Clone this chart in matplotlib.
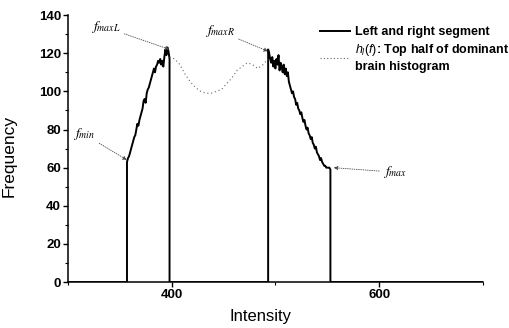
import numpy as np
import matplotlib
matplotlib.use('Agg')
import matplotlib.pyplot as plt
from matplotlib.ticker import MultipleLocator
from matplotlib.lines import Line2D

plt.rcParams['font.family'] = ['Liberation Sans', 'DejaVu Sans']
plt.rcParams['mathtext.fontset'] = 'custom'
plt.rcParams['mathtext.it'] = 'Liberation Sans:italic'
plt.rcParams['mathtext.rm'] = 'Liberation Sans'

# left segment (fmin -> fmaxL), one value per intensity step
left_start = 357
left_y = [63, 65, 66, 68, 70, 72, 74, 76, 77, 80, 83, 82, 85, 87, 89, 91, 95, 96,
          94, 99, 101, 102, 104, 106, 108, 110, 112, 110, 113, 114, 116, 115, 117,
          114, 116, 113, 118, 122, 119, 123, 121, 117]

# right segment (fmaxR -> fmax)
right_start = 493
right_y = [122, 120, 117, 115, 118, 113, 116, 112, 117, 114, 119, 111, 115, 113, 110,
           114, 109, 112, 108, 110, 105, 103, 101, 99, 100, 97, 96, 93, 94, 91, 90,
           88, 89, 86, 84, 85, 82, 80, 81, 78, 77, 75, 76, 73, 72, 70, 71, 68, 67,
           66, 64, 65, 63, 62, 61, 61, 60, 60, 60, 60, 59]

# top half of dominant brain histogram between the segments
mid_x = [398, 403, 408, 413, 418, 423, 428, 433, 438, 443, 448, 453, 458, 463, 468,
         473, 478, 483, 488, 493]
mid_y = [118, 117, 114, 109, 105, 102, 100, 99, 99, 100, 101, 104, 107, 111, 113,
         115, 114, 112, 114, 117]

x_min, x_max = 300, 700

left_x = np.arange(left_start, left_start + len(left_y))
right_x = np.arange(right_start, right_start + len(right_y))

seg_x = np.concatenate([[x_min, left_x[0]], left_x, [left_x[-1], right_x[0]],
                        right_x, [right_x[-1], x_max]])
seg_y = np.concatenate([[0, 0], left_y, [0, 0], right_y, [0, 0]])

fig = plt.figure(figsize=(5.1, 3.28), dpi=100)
ax = fig.add_axes([0.133, 0.140, 0.814, 0.814])

ax.plot(seg_x, seg_y, color='black', lw=1.4)
ax.plot(mid_x, mid_y, color='0.4', lw=0.8, ls=(0, (1, 2.5)))

ax.set_xlim(x_min, x_max)
ax.set_ylim(0, 140)
ax.xaxis.set_major_locator(MultipleLocator(200))
ax.xaxis.set_minor_locator(MultipleLocator(100))
ax.yaxis.set_major_locator(MultipleLocator(20))
ax.yaxis.set_minor_locator(MultipleLocator(10))
ax.tick_params(which='major', length=3.5, width=1, labelsize=9.5, pad=1.5)
ax.tick_params(which='minor', length=2, width=0.8)
for lab in ax.get_xticklabels() + ax.get_yticklabels():
    lab.set_fontweight('bold')
for s in ['top', 'right']:
    ax.spines[s].set_visible(False)
for s in ['left', 'bottom']:
    ax.spines[s].set_linewidth(1.1)

ax.set_xlabel('Intensity', fontsize=12)
ax.set_ylabel('Frequency', fontsize=12.5)
ax.xaxis.set_label_coords(0.463, -0.1)
ax.yaxis.set_label_coords(-0.123, 0.472)

arrow = dict(arrowstyle='-|>', color='0.3', lw=0.6, ls=':', mutation_scale=6,
             shrinkA=1, shrinkB=0)
akw = dict(fontsize=10, math_fontfamily='stix', arrowprops=arrow)
ax.annotate(r'$f_{min}$', xy=(left_x[0], left_y[0] + 1), xytext=(305, 76), **akw)
ax.annotate(r'$f_{maxL}$', xy=(398, 122), xytext=(322, 132), **akw)
ax.annotate(r'$f_{maxR}$', xy=(493, 121), xytext=(432, 130), **akw)
ax.annotate(r'$f_{max}$', xy=(556, 60), xytext=(604, 56), **akw)

handles = [Line2D([], [], color='black', lw=1.4),
           Line2D([], [], color='0.4', lw=0.8, ls=(0, (1, 2)))]
labels = ['Left and right segment',
          r'$h_l(f)$: Top half of dominant' + '\nbrain histogram']
leg = fig.legend(handles, labels, loc='upper left', bbox_to_anchor=(0.617, 0.935),
                 frameon=False, fontsize=9, handlelength=2.4, handletextpad=0.4,
                 labelspacing=0.3, borderaxespad=0)
for t in leg.get_texts():
    t.set_fontweight('bold')
    t.set_linespacing(1.35)

fig.savefig('out.png', dpi=100)
